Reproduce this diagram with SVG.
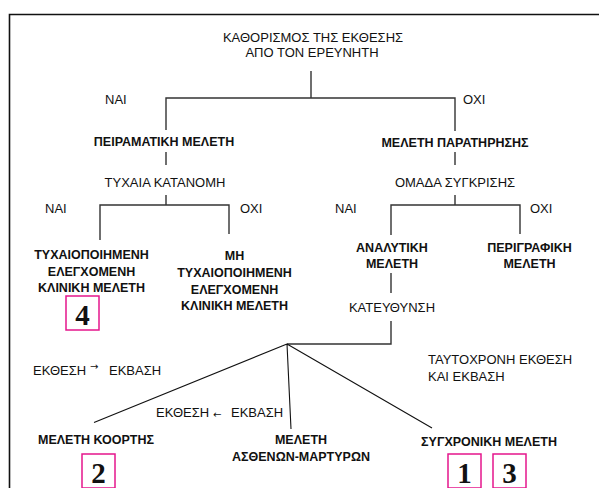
<svg xmlns="http://www.w3.org/2000/svg" width="599" height="488" viewBox="0 0 599 488">
<style>
text{font-family:"Liberation Sans",Arial,sans-serif;font-size:13px;fill:#111}
.b{font-weight:bold;font-size:12.5px}
.c{text-anchor:middle}
.ar{font-family:"DejaVu Sans",sans-serif;font-size:10px}
.n{font-family:"Liberation Serif","Times New Roman",serif;font-size:29px;font-weight:bold;text-anchor:middle}
.ln{fill:none;stroke:#333;stroke-width:1.4}
.fn{fill:none;stroke:#111;stroke-width:1.1}
.fr{fill:none;stroke:#111;stroke-width:1.6}
.bx{fill:none;stroke:#e5168c;stroke-width:1.5}
</style>
<g id="frame"><path class="fr" d="M599,14.5H9.5V488"/></g>
<g id="connectors">
<path class="ln" d="M311,71V98M166,130V98H455V131"/>
<path class="ln" d="M166,152V165M166,195V205M100,240V205H229V234"/>
<path class="ln" d="M455,152V165M455,195V205M391,235V205H520V234"/>
<path class="ln" d="M391,273V293M391,321V344H287"/>
<path class="fn" d="M287,344L94,422.5M287,344L291,429M287,344L432,428"/>
</g>
<g id="root"><text class="c" x="313" y="42">ΚΑΘΟΡΙΣΜΟΣ ΤΗΣ ΕΚΘΕΣΗΣ</text><text class="c" x="312" y="57">ΑΠΟ ΤΟΝ ΕΡΕΥΝΗΤΗ</text></g>
<g id="lbl1"><text x="105" y="104">ΝΑΙ</text><text x="463" y="104">ΟΧΙ</text></g>
<g id="peiramatiki"><text class="b c" x="164" y="146">ΠΕΙΡΑΜΑΤΙΚΗ ΜΕΛΕΤΗ</text></g>
<g id="paratirisis"><text class="b c" x="455" y="147">ΜΕΛΕΤΗ ΠΑΡΑΤΗΡΗΣΗΣ</text></g>
<g id="tyxaia"><text class="c" x="165" y="187">ΤΥΧΑΙΑ ΚΑΤΑΝΟΜΗ</text></g>
<g id="omada"><text class="c" x="455" y="187">ΟΜΑΔΑ ΣΥΓΚΡΙΣΗΣ</text></g>
<g id="lbl2"><text x="45" y="213">ΝΑΙ</text><text x="240" y="213">ΟΧΙ</text><text x="335" y="213">ΝΑΙ</text><text x="530" y="213">ΟΧΙ</text></g>
<g id="rct"><text class="b c" x="91.5" y="259">ΤΥΧΑΙΟΠΟΙΗΜΕΝΗ</text><text class="b c" x="91.5" y="276">ΕΛΕΓΧΟΜΕΝΗ</text><text class="b c" x="91.5" y="292">ΚΛΙΝΙΚΗ ΜΕΛΕΤΗ</text></g>
<g id="box4"><rect class="bx" x="66" y="296" width="33" height="34"/><text class="n" x="82.5" y="325">4</text></g>
<g id="nrct"><text class="b c" x="234.5" y="260">ΜΗ</text><text class="b c" x="234.5" y="277">ΤΥΧΑΙΟΠΟΙΗΜΕΝΗ</text><text class="b c" x="234.5" y="294">ΕΛΕΓΧΟΜΕΝΗ</text><text class="b c" x="234.5" y="310">ΚΛΙΝΙΚΗ ΜΕΛΕΤΗ</text></g>
<g id="analytiki"><text class="b c" x="392" y="252">ΑΝΑΛΥΤΙΚΗ</text><text class="b c" x="392" y="268">ΜΕΛΕΤΗ</text></g>
<g id="perigrafiki"><text class="b c" x="529.5" y="252">ΠΕΡΙΓΡΑΦΙΚΗ</text><text class="b c" x="529.5" y="268">ΜΕΛΕΤΗ</text></g>
<g id="kateythynsi"><text class="c" x="392" y="312">ΚΑΤΕΥΘΥΝΣΗ</text></g>
<g id="lbl3"><text y="375"><tspan x="33">ΕΚΘΕΣΗ</tspan><tspan class="ar" x="90" y="370">→</tspan><tspan x="109" y="375">ΕΚΒΑΣΗ</tspan></text>
<text y="417"><tspan x="156">ΕΚΘΕΣΗ</tspan><tspan class="ar" x="213" y="418">←</tspan><tspan x="231" y="417">ΕΚΒΑΣΗ</tspan></text>
<text x="428" y="364">ΤΑΥΤΟΧΡΟΝΗ ΕΚΘΕΣΗ</text><text x="428" y="381">ΚΑΙ ΕΚΒΑΣΗ</text></g>
<g id="kohort"><text class="b c" x="96" y="444">ΜΕΛΕΤΗ ΚΟΟΡΤΗΣ</text><rect class="bx" x="82" y="454" width="33" height="34"/><text class="n" x="98.5" y="483">2</text></g>
<g id="astheno"><text class="b c" x="301" y="444">ΜΕΛΕΤΗ</text><text class="b c" x="301" y="461">ΑΣΘΕΝΩΝ-ΜΑΡΤΥΡΩΝ</text></g>
<g id="sygxroniki"><text class="b c" x="489" y="446">ΣΥΓΧΡΟΝΙΚΗ ΜΕΛΕΤΗ</text><rect class="bx" x="448" y="454" width="33" height="34"/><text class="n" x="464.5" y="483">1</text><rect class="bx" x="493" y="454" width="33" height="34"/><text class="n" x="509.5" y="483">3</text></g>
</svg>
